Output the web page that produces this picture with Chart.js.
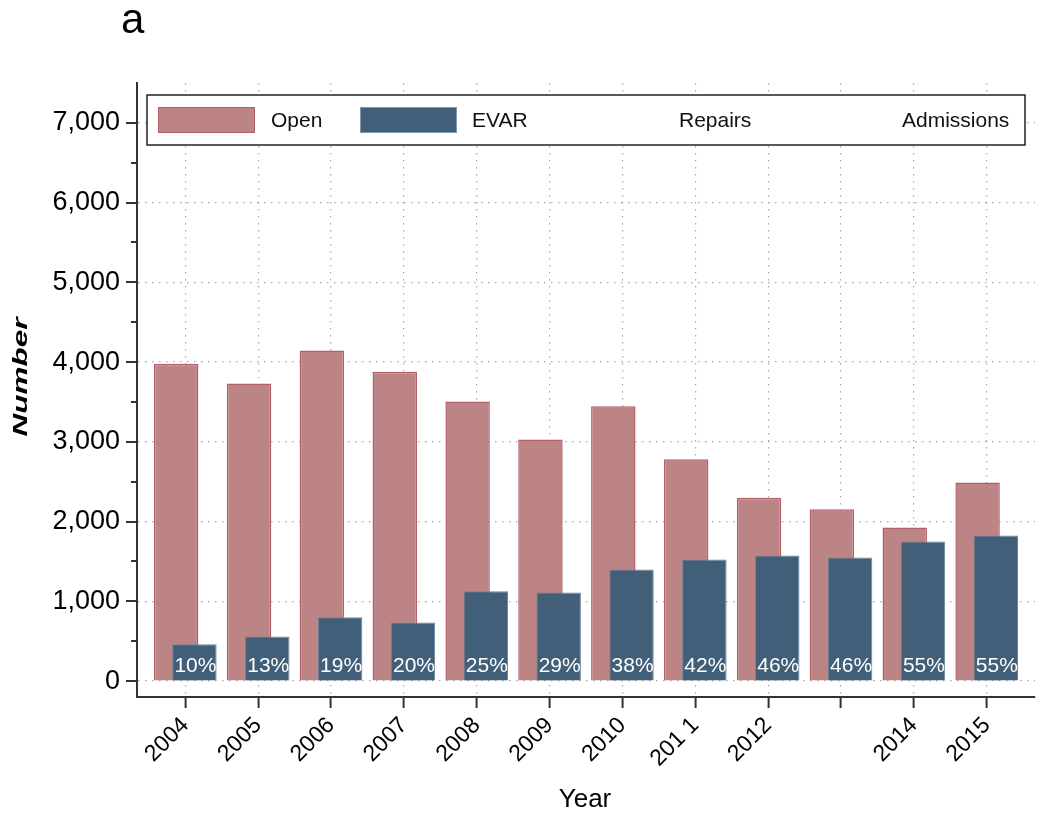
<!DOCTYPE html>
<html>
<head>
<meta charset="utf-8">
<script src="https://cdn.jsdelivr.net/npm/chart.js@4"></script>
<style>
  html, body { margin: 0; padding: 0; background: #fff; }
</style>
</head>
<body>
<canvas id="myChart" width="1050" height="817"></canvas>
<script>
const years = ['2004', '2005', '2006', '2007', '2008', '2009', '2010', '2011', '2012', '2013', '2014', '2015'];
const yearTickLabels = ['2004', '2005', '2006', '2007', '2008', '2009', '2010', '201 1', '2012', '', '2014', '2015'];
const openRepairs = [3980, 3730, 4145, 3880, 3505, 3030, 3445, 2780, 2300, 2155, 1925, 2490];
const evarRepairs = [460, 560, 800, 735, 1125, 1110, 1400, 1525, 1575, 1550, 1750, 1825];
const evarShare = [10, 13, 19, 20, 25, 29, 38, 42, 46, 46, 55, 55];
const yMajorTicks = [0, 1000, 2000, 3000, 4000, 5000, 6000, 7000];
const yMinorTicks = [500, 1500, 2500, 3500, 4500, 5500, 6500];

const FONT = "'Liberation Sans', Arial, sans-serif";
const AXIS = '#333';

// datasets are drawn in index order so EVAR sits over Open
const barOrder = {
    id: 'barOrder',
    beforeDatasetsDraw(chart) {
        const { ctx, chartArea } = chart;
        ctx.save();
        ctx.beginPath();
        ctx.rect(chartArea.left, chartArea.top, chartArea.width, chartArea.height);
        ctx.clip();
        chart.getSortedVisibleDatasetMetas().forEach(meta => meta.controller.draw());
        ctx.restore();
        return false;
    }
};

const extras = {
    id: 'extras',
    afterDraw(chart) {
        const { ctx, chartArea } = chart;
        const yScale = chart.scales.y;
        ctx.save();

        // y tick marks, minor ones shorter
        ctx.strokeStyle = AXIS;
        ctx.lineWidth = 2;
        yMajorTicks.forEach(v => {
            const y = Math.round(yScale.getPixelForValue(v));
            ctx.beginPath();
            ctx.moveTo(chartArea.left - 11, y);
            ctx.lineTo(chartArea.left, y);
            ctx.stroke();
        });
        yMinorTicks.forEach(v => {
            const y = Math.round(yScale.getPixelForValue(v));
            ctx.beginPath();
            ctx.moveTo(chartArea.left - 6, y);
            ctx.lineTo(chartArea.left, y);
            ctx.stroke();
        });

        // percentage labels on EVAR bars
        const y0 = yScale.getPixelForValue(0);
        ctx.fillStyle = '#fff';
        ctx.font = '21px ' + FONT;
        ctx.textAlign = 'center';
        ctx.textBaseline = 'alphabetic';
        chart.getDatasetMeta(1).data.forEach((bar, i) => {
            ctx.fillText(evarShare[i] + '%', bar.x + 1, y0 - 9);
        });

        // legend box
        ctx.fillStyle = '#fff';
        ctx.fillRect(147, 95, 878, 50);
        ctx.strokeStyle = '#222';
        ctx.lineWidth = 1.5;
        ctx.strokeRect(147, 95, 878, 50);
        ctx.fillStyle = '#bd8486';
        ctx.fillRect(158, 107, 97, 26);
        ctx.strokeStyle = '#b25e66';
        ctx.lineWidth = 1;
        ctx.strokeRect(158.5, 107.5, 96, 25);
        ctx.fillStyle = '#415f78';
        ctx.fillRect(360, 107, 97, 26);
        ctx.strokeStyle = '#7f98ad';
        ctx.strokeRect(360.5, 107.5, 96, 25);
        ctx.fillStyle = '#111';
        ctx.font = '21px ' + FONT;
        ctx.textAlign = 'left';
        ctx.textBaseline = 'middle';
        ctx.fillText('Open', 271, 121);
        ctx.fillText('EVAR', 472, 121);
        ctx.fillText('Repairs', 679, 121);
        ctx.fillText('Admissions', 902, 121);

        // panel letter and axis titles
        ctx.fillStyle = '#000';
        ctx.textBaseline = 'alphabetic';
        ctx.font = '42px ' + FONT;
        ctx.fillText('a', 121, 33);
        ctx.font = '26px ' + FONT;
        ctx.textAlign = 'center';
        ctx.fillText('Year', 585, 807);

        ctx.translate(21, 377);
        ctx.rotate(-Math.PI / 2);
        ctx.scale(1.5, 1);
        ctx.font = 'italic bold 21px ' + FONT;
        ctx.textBaseline = 'middle';
        ctx.fillText('Number', 0, 0);
        ctx.restore();
    }
};

new Chart(document.getElementById('myChart'), {
    type: 'bar',
    data: {
        datasets: [{
            label: 'Open',
            data: openRepairs.map((v, i) => ({ x: i, y: v })),
            backgroundColor: '#bd8486',
            borderColor: '#b25e66',
            borderWidth: 1.5,
            categoryPercentage: 0.5,
            barPercentage: 2.44
        }, {
            label: 'EVAR',
            data: evarRepairs.map((v, i) => ({ x: i, y: v })),
            backgroundColor: '#415f78',
            borderColor: '#6a869c',
            borderWidth: 1,
            categoryPercentage: 0.5,
            barPercentage: 2.44
        }]
    },
    options: {
        responsive: false,
        animation: false,
        layout: { padding: { top: 83, right: 15, left: 0, bottom: 0 } },
        plugins: {
            legend: { display: false },
            tooltip: { enabled: false }
        },
        scales: {
            x: {
                type: 'linear',
                offset: false,
                min: -0.663,
                max: 11.663,
                afterBuildTicks: axis => { axis.ticks = years.map((y, i) => ({ value: i })); },
                afterFit: axis => { axis.height = 120; },
                grid: {
                    offset: false,
                    color: '#a8a8a8',
                    lineWidth: 1.2,
                    tickLength: 11,
                    tickColor: AXIS,
                    tickWidth: 2
                },
                border: { display: true, color: AXIS, width: 2, dash: [1.5, 5.5] },
                ticks: {
                    autoSkip: false,
                    minRotation: 45,
                    maxRotation: 45,
                    padding: 4,
                    color: '#000',
                    font: { family: FONT, size: 23 },
                    callback: v => yearTickLabels[v]
                }
            },
            y: {
                min: -200,
                max: 7500,
                afterBuildTicks: axis => { axis.ticks = yMajorTicks.map(v => ({ value: v })); },
                afterFit: axis => { axis.width = 137; },
                grid: {
                    color: '#a8a8a8',
                    lineWidth: 1.2,
                    drawTicks: false
                },
                border: { display: true, color: AXIS, width: 2, dash: [1.5, 5.5] },
                ticks: {
                    padding: 17,
                    color: '#000',
                    font: { family: FONT, size: 27 },
                    callback: v => v.toLocaleString('en-US')
                }
            }
        }
    },
    plugins: [barOrder, extras]
});
</script>
</body>
</html>
